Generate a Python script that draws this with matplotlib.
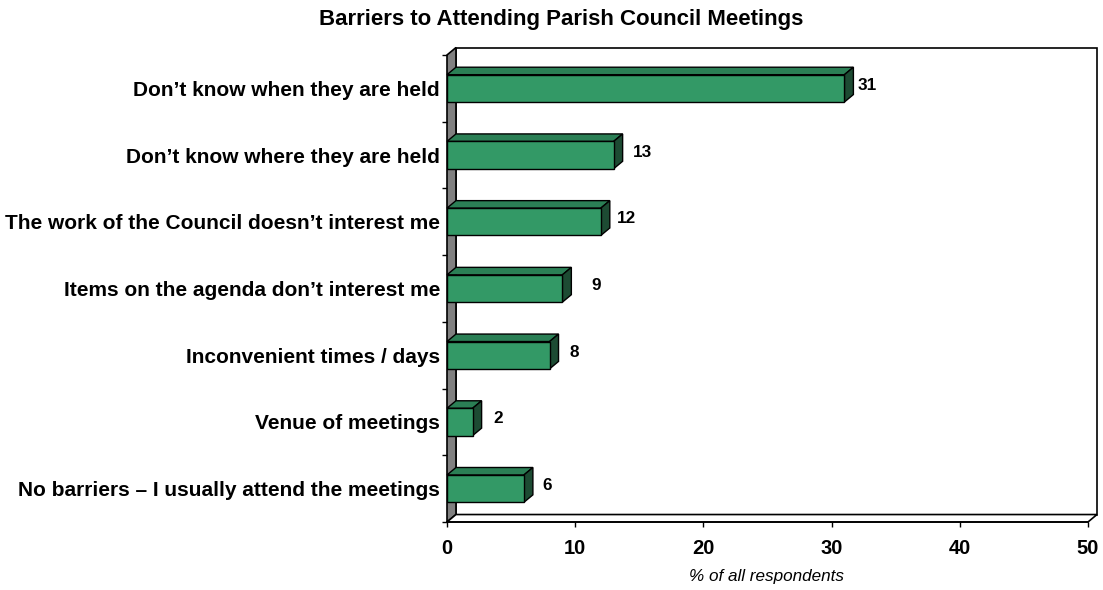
import matplotlib.pyplot as plt
from matplotlib.patches import Polygon
from matplotlib.ticker import FixedLocator

plt.rcParams['font.family'] = ['Liberation Sans', 'DejaVu Sans']

reasons = [
    'Don\u2019t know when they are held',
    'Don\u2019t know where they are held',
    'The work of the Council doesn\u2019t interest me',
    'Items on the agenda don\u2019t interest me',
    'Inconvenient times / days',
    'Venue of meetings',
    'No barriers \u2013 I usually attend the meetings',
]
percent = [31, 13, 12, 9, 8, 2, 6]
# small sideways nudges for the value labels, in points
label_nudge = [-1.5, 3, 0.5, 6, 0, 0, -1]

front = '#339966'
top_col = '#2b7f55'
side_col = '#1d4b33'
wall_col = '#808080'

# depth of the fake 3D effect, in data units
dx, dy = 0.70, 0.112
bar_h = 0.41
xmax = 50
n = len(reasons)
y0, y1 = -0.5, n - 0.5

fig = plt.figure(figsize=(11.03, 5.90), dpi=100)
ax = fig.add_axes([447 / 1103, 68 / 590, 641 / 1103, 467 / 590])
ax.set_xlim(0, xmax)
ax.set_ylim(y1, y0)

# back wall, left wall and floor
ax.add_patch(Polygon([(dx, y0 - dy), (xmax + dx, y0 - dy), (xmax + dx, y1 - dy), (dx, y1 - dy)],
                     closed=True, facecolor='white', edgecolor='black', lw=1.2, zorder=0, clip_on=False))
ax.add_patch(Polygon([(0, y0), (dx, y0 - dy), (dx, y1 - dy), (0, y1)],
                     closed=True, facecolor=wall_col, edgecolor='black', lw=1.2, zorder=1, clip_on=False))
ax.add_patch(Polygon([(0, y1), (xmax, y1), (xmax + dx, y1 - dy), (dx, y1 - dy)],
                     closed=True, facecolor='white', edgecolor='black', lw=1.2, zorder=1, clip_on=False))

pos = list(range(n))
ax.barh(pos, percent, height=bar_h, color=front, edgecolor='black', lw=1.0, zorder=3)
for i, v in enumerate(percent):
    t = i - bar_h / 2
    b = i + bar_h / 2
    ax.add_patch(Polygon([(0, t), (v, t), (v + dx, t - dy), (dx, t - dy)],
                         closed=True, facecolor=top_col, edgecolor='black', lw=1.0, zorder=2, clip_on=False))
    ax.add_patch(Polygon([(v, t), (v, b), (v + dx, b - dy), (v + dx, t - dy)],
                         closed=True, facecolor=side_col, edgecolor='black', lw=1.0, zorder=2, clip_on=False))
    ax.annotate(str(v), xy=(v, i), xytext=(18 + label_nudge[i], 2.2), textcoords='offset points',
                ha='center', va='center', fontsize=12.3, fontweight='bold')

for s in ax.spines.values():
    s.set_visible(False)
ax.plot([0, xmax], [y1, y1], color='black', lw=1.2, clip_on=False, zorder=4)

ax.set_xticks(range(0, xmax + 1, 10))
ax.tick_params(axis='x', direction='out', length=3.6, width=1, pad=8.5, labelsize=14.5)
for lab in ax.get_xticklabels():
    lab.set_fontweight('bold')

ax.set_yticks(pos)
ax.set_yticklabels(reasons, fontsize=15, fontweight='bold')
ax.yaxis.set_minor_locator(FixedLocator([k - 0.5 for k in range(n + 1)]))
ax.tick_params(axis='y', which='major', length=0, pad=5)
ax.tick_params(axis='y', which='minor', direction='out', length=3.6, width=1)

fig.text(561 / 1103, 1 - 20 / 590, 'Barriers to Attending Parish Council Meetings',
         ha='center', va='center', fontsize=16, fontweight='bold')
fig.text(767 / 1103, 1 - 576 / 590, '% of all respondents',
         ha='center', va='center', fontsize=12.3, style='italic')

fig.savefig('out.png', dpi=100)
